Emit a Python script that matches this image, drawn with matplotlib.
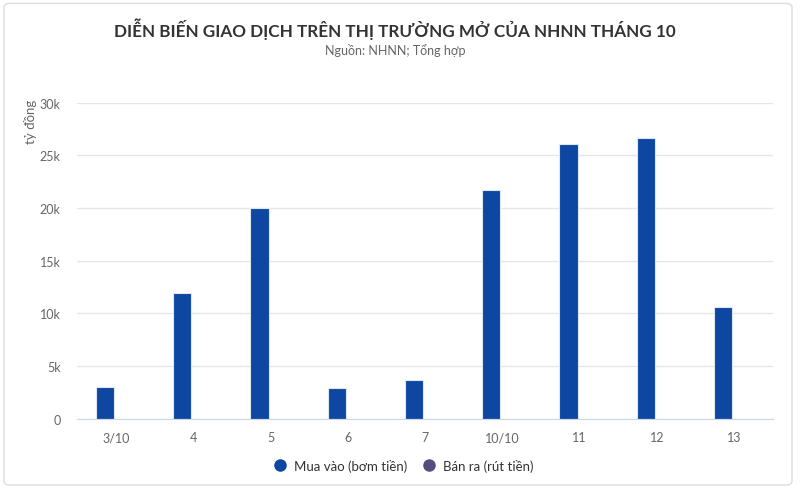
import matplotlib.pyplot as plt
from matplotlib.patches import FancyBboxPatch
from matplotlib.lines import Line2D
import numpy as np

categories = ["3/10", "4", "5", "6", "7", "10/10", "11", "12", "13"]
mua_vao = [3000, 11900, 20000, 2900, 3700, 21700, 26050, 26650, 10600]
ban_ra = [0, 0, 0, 0, 0, 0, 0, 0, 0]
yticks = [0, 5000, 10000, 15000, 20000, 25000, 30000]
ytick_labels = ["0", "5k", "10k", "15k", "20k", "25k", "30k"]

blue = "#0d47a1"
purple = "#544f7a"
text_gray = "#666666"

plt.rcParams["font.family"] = ["Lato", "DejaVu Sans"]

fig = plt.figure(figsize=(8, 4.89), dpi=100)
fig.patch.set_facecolor("white")

# card border
card = FancyBboxPatch((0.005, 0.006), 0.985, 0.985, boxstyle="round,pad=0,rounding_size=0.008",
                      transform=fig.transFigure, facecolor="none", edgecolor="#dddddd",
                      linewidth=1.0, zorder=0)
fig.patches.append(card)

ax = fig.add_axes([0.0968, 0.1417, 0.869, 0.6463])
x = np.arange(len(categories))
w = 0.234
ax.bar(x - 0.143, mua_vao, width=w, color=blue, edgecolor="#dfe6f3", linewidth=0.8, zorder=3)
ax.bar(x + 0.143, ban_ra, width=w, color=purple, linewidth=0, zorder=3)

ax.set_xlim(-0.5, len(categories) - 0.5)
ax.set_ylim(0, 30000)
ax.set_xticks(x)
ax.set_xticklabels(categories)
ax.set_yticks(yticks)
ax.set_yticklabels(ytick_labels)
ax.tick_params(axis="both", length=0, colors=text_gray, labelsize=9)
ax.tick_params(axis="x", pad=9)
ax.tick_params(axis="y", pad=12)
for lab in ax.get_yticklabels():
    lab.set_horizontalalignment("right")

ax.grid(axis="y", color="#e6e6e6", linewidth=1, zorder=0)
for s in ["top", "right", "left"]:
    ax.spines[s].set_visible(False)
ax.spines["bottom"].set_color("#ccd6eb")
ax.spines["bottom"].set_zorder(4)

fig.text(0.038, 0.75, "tỷ đồng", rotation=90, ha="center", va="center",
         color=text_gray, fontsize=9.5)

fig.text(0.494, 0.94, "DIỄN BIẾN GIAO DỊCH TRÊN THỊ TRƯỜNG MỞ CỦA NHNN THÁNG 10",
         ha="center", va="center", fontsize=12.3, fontweight="bold", color="#333333")
fig.text(0.494, 0.896, "Nguồn: NHNN; Tổng hợp", ha="center", va="center",
         fontsize=9, color=text_gray)

handles = [
    Line2D([], [], marker="o", linestyle="none", markersize=8, color=blue),
    Line2D([], [], marker="o", linestyle="none", markersize=8, color=purple),
]
fig.legend(handles, ["Mua vào (bơm tiền)", "Bán ra (rút tiền)"], loc="center",
           bbox_to_anchor=(0.5, 0.047), ncol=2, frameon=False, fontsize=9.5,
           handletextpad=0.1, columnspacing=0.6, labelcolor="#333333")

fig.savefig("out.png", dpi=100)
